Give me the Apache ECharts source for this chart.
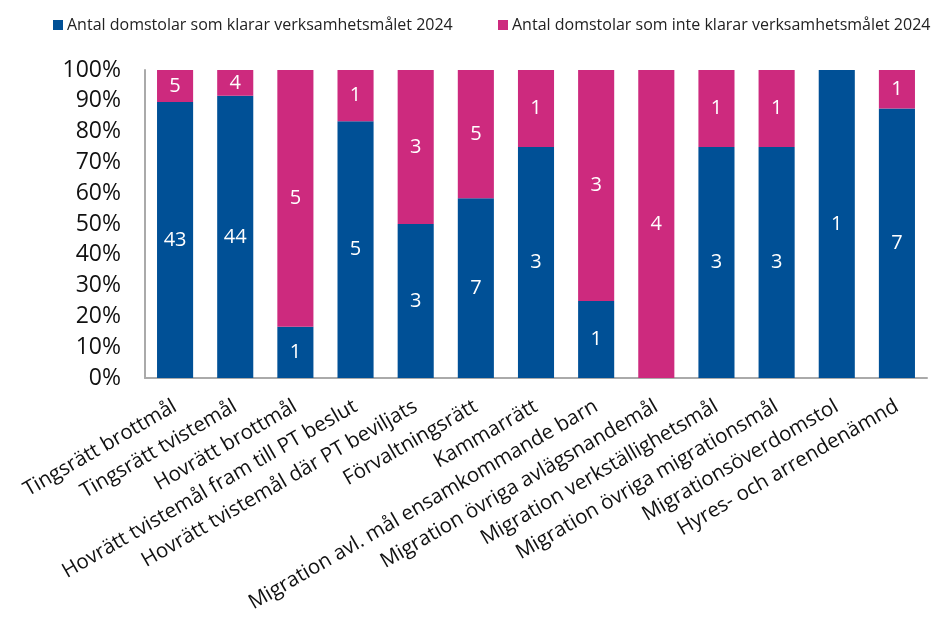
<!DOCTYPE html>
<html>
<head>
<meta charset="utf-8">
<script src="https://cdn.jsdelivr.net/npm/echarts@6/dist/echarts.min.js"></script>
<style>
  html, body { margin: 0; padding: 0; background: #fff; }
  #chart { width: 933px; height: 644px; }
</style>
</head>
<body>
<div id="chart"></div>
<script>
const categories = [
  'Tingsrätt brottmål',
  'Tingsrätt tvistemål',
  'Hovrätt brottmål',
  'Hovrätt tvistemål fram till PT beslut',
  'Hovrätt tvistemål där PT beviljats',
  'Förvaltningsrätt',
  'Kammarrätt',
  'Migration avl. mål ensamkommande barn',
  'Migration övriga avlägsnandemål',
  'Migration verkställighetsmål',
  'Migration övriga migrationsmål',
  'Migrationsöverdomstol',
  'Hyres- och arrendenämnd'
];
const klarar = [43, 44, 1, 5, 3, 7, 3, 1, 0, 3, 3, 1, 7];
const klararInte = [5, 4, 5, 1, 3, 5, 1, 3, 4, 1, 1, 0, 1];
const seriesNames = [
  'Antal domstolar som klarar verksamhetsmålet 2024',
  'Antal domstolar som inte klarar verksamhetsmålet 2024'
];
const yTicks = [0, 10, 20, 30, 40, 50, 60, 70, 80, 90, 100];

const BLUE = '#005096';
const PINK = '#cd2a7e';

// share of each court type, counts go into the labels
function share(counts, i) {
  const total = klarar[i] + klararInte[i];
  return { value: counts[i] / total * 100, count: counts[i] };
}

const chart = echarts.init(document.getElementById('chart'));

const labelStyle = {
  show: true,
  position: 'inside',
  color: '#fff',
  fontSize: 20,
  fontFamily: 'Open Sans',
  formatter: p => (p.data.count ? String(p.data.count) : '')
};

// one legend per series so both sit on one row at fixed spots
function legendAt(left, name) {
  return {
    top: 17,
    left: left,
    padding: 0,
    itemWidth: 10,
    itemHeight: 10,
    icon: 'rect',
    textStyle: { fontSize: 16, color: '#222', padding: [0, 0, 0, -1] },
    data: [name]
  };
}

chart.setOption({
  animation: false,
  textStyle: { fontFamily: 'Open Sans' },
  legend: [legendAt(53, seriesNames[0]), legendAt(498, seriesNames[1])],
  grid: { left: 145, right: 6, top: 70, bottom: 266, containLabel: false },
  xAxis: {
    type: 'category',
    data: categories,
    axisLine: { lineStyle: { color: '#aaa', width: 2 } },
    axisTick: { show: false },
    axisLabel: {
      rotate: 30,
      interval: 0,
      fontSize: 20.5,
      color: '#111',
      margin: 27
    }
  },
  yAxis: {
    type: 'value',
    min: 0,
    max: 100,
    interval: 10,
    axisLine: { show: true, lineStyle: { color: '#aaa', width: 2 } },
    axisTick: { show: false },
    splitLine: { show: false },
    axisLabel: {
      fontSize: 23,
      color: '#111',
      margin: 24,
      customValues: yTicks,
      formatter: '{value}%'
    }
  },
  series: [
    {
      name: seriesNames[0],
      type: 'bar',
      stack: 'total',
      barWidth: '60%',
      itemStyle: { color: BLUE },
      label: labelStyle,
      data: categories.map((c, i) => share(klarar, i))
    },
    {
      name: seriesNames[1],
      type: 'bar',
      stack: 'total',
      barWidth: '60%',
      itemStyle: { color: PINK },
      label: labelStyle,
      data: categories.map((c, i) => share(klararInte, i))
    }
  ]
});
</script>
</body>
</html>
